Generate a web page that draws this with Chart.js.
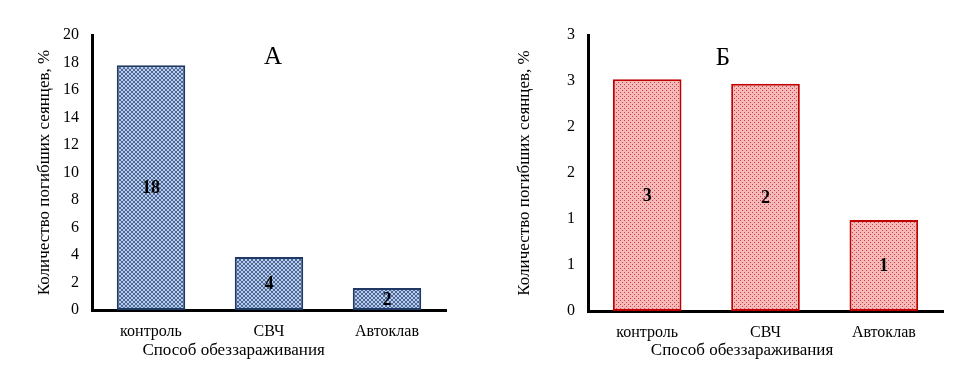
<!DOCTYPE html>
<html>
<head>
<meta charset="utf-8">
<script src="https://cdn.jsdelivr.net/npm/chart.js@4"></script>
<style>
  html, body { margin: 0; padding: 0; background: #fff; }
  #wrap { position: relative; width: 959px; height: 365px; }
  .panel { position: absolute; top: 0; height: 365px; }
  #left { left: 0; width: 480px; }
  #right { left: 480px; width: 479px; }
</style>
</head>
<body>
<div id="wrap">
  <div class="panel" id="left"><canvas id="chartA"></canvas></div>
  <div class="panel" id="right"><canvas id="chartB"></canvas></div>
</div>
<script>
// categories shared by both panels
const categories = ["контроль", "СВЧ", "Автоклав"];

// panel A values (%)
const valuesA = [17.8, 3.85, 1.6];
const ticksA = ["0", "2", "4", "6", "8", "10", "12", "14", "16", "18", "20"];

// panel B values (%)
const valuesB = [2.52, 2.47, 0.99];
const ticksB = ["0", "1", "1", "2", "2", "3", "3"];

const yTitle = "Количество погибших сеянцев, %";
const xTitle = "Способ обеззараживания";

const FONT = "'Liberation Serif', 'Times New Roman', serif";

function makePattern(bg, fg, kind) {
  const c = document.createElement("canvas");
  c.width = 4; c.height = 4;
  const g = c.getContext("2d");
  g.fillStyle = bg;
  g.fillRect(0, 0, 4, 4);
  g.fillStyle = fg;
  if (kind === "cross") {
    for (let i = 0; i < 4; i++) {
      g.fillRect(i, i, 1, 1);
      g.fillRect(3 - i, i, 1, 1);
    }
  } else {
    g.fillRect(0, 0, 1, 1);
    g.fillRect(2, 2, 1, 1);
  }
  return g.createPattern(c, "repeat");
}

// draws the value labels, the panel letter and the x title
const textPlugin = {
  id: "texts",
  afterDatasetsDraw(chart, args, opts) {
    const ctx = chart.ctx;
    const area = chart.chartArea;
    ctx.save();
    ctx.fillStyle = "#000";
    ctx.textAlign = "center";
    ctx.textBaseline = "middle";
    ctx.font = "bold 18px " + FONT;
    const meta = chart.getDatasetMeta(0);
    meta.data.forEach((bar, i) => {
      const v = chart.data.datasets[0].data[i];
      ctx.fillText(String(Math.round(v)), bar.x, (bar.y + bar.base) / 2 + 1);
    });
    ctx.font = "25px " + FONT;
    ctx.fillText(opts.letter, opts.letterX, opts.letterY);
    ctx.font = "17px " + FONT;
    ctx.fillText(xTitle, area.left + area.width * opts.titlePos, 351);
    ctx.restore();
  }
};

function makeChart(id, values, tickLabels, step, max, fill, border, o) {
  return new Chart(document.getElementById(id), {
    type: "bar",
    data: {
      labels: categories,
      datasets: [{
        data: values,
        backgroundColor: fill,
        borderColor: border,
        borderWidth: 2,
        borderSkipped: false,
        categoryPercentage: 1,
        barPercentage: 0.58
      }]
    },
    options: {
      responsive: true,
      maintainAspectRatio: false,
      animation: false,
      layout: { padding: { left: 30, right: o.padRight, top: 35, bottom: 0 } },
      plugins: {
        legend: { display: false },
        tooltip: { enabled: false },
        texts: o
      },
      scales: {
        x: {
          grid: { display: false, drawTicks: false },
          border: { display: true, color: "#000", width: 3 },
          ticks: { color: "#000", padding: 12, font: { family: FONT, size: 16 } },
          afterFit: (s) => { s.height = o.bottom; }
        },
        y: {
          min: 0,
          max: max,
          grid: { display: false, drawTicks: false },
          border: { display: true, color: "#000", width: 3 },
          ticks: {
            stepSize: step,
            color: "#000",
            padding: 13,
            font: { family: FONT, size: 16 },
            callback: (val, i) => tickLabels[i]
          },
          title: {
            display: true,
            text: yTitle,
            color: "#000",
            font: { family: FONT, size: 17 },
            padding: { top: 4, bottom: 0 }
          },
          afterFit: (s) => { s.width = o.yWidth; }
        }
      }
    },
    plugins: [textPlugin]
  });
}

makeChart("chartA", valuesA, ticksA, 2, 20,
  makePattern("#bccbe6", "#4a6a9e", "cross"), "#1f3864",
  { letter: "А", letterX: 273, letterY: 57, titlePos: 0.40, padRight: 34, yWidth: 62, bottom: 55 });

makeChart("chartB", valuesB, ticksB, 0.5, 3,
  makePattern("#f5b9b9", "#c84444", "dots"), "#c00000",
  { letter: "Б", letterX: 243, letterY: 58, titlePos: 0.434, padRight: 16, yWidth: 78, bottom: 54 });
</script>
</body>
</html>
